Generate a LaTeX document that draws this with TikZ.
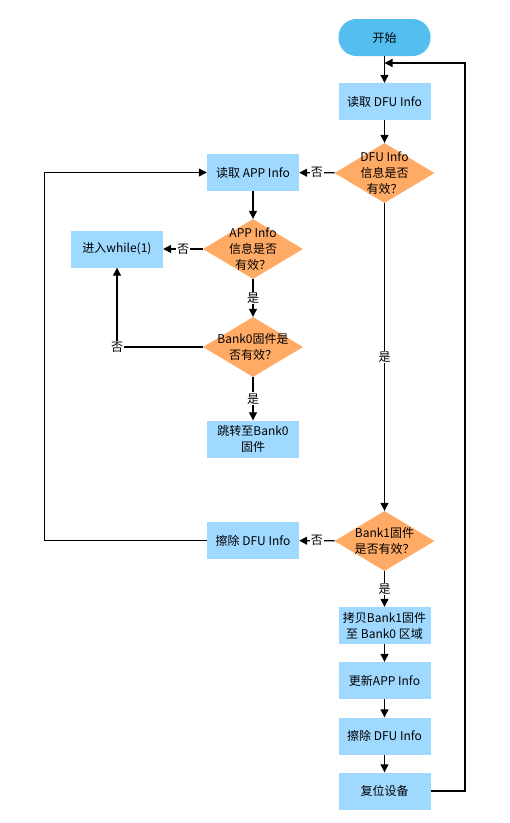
\documentclass[tikz,border=0pt]{standalone}
\usepackage{fontspec}
\setmainfont{Noto Sans CJK SC}
\usetikzlibrary{shapes.geometric,arrows.meta}
\definecolor{boxblue}{RGB}{160,217,255}
\definecolor{startblue}{RGB}{85,190,240}
\definecolor{decor}{RGB}{255,171,102}
\newcommand{\dtext}[1]{\makebox[0pt]{\raisebox{-0.33em}[0pt][0pt]{\begin{tabular}{@{}c@{}}#1\end{tabular}}}}
\tikzset{
  basefont/.style={font=\fontsize{12}{16}\selectfont},
  stepbox/.style={rectangle, fill=boxblue, minimum width=92pt, minimum height=37pt, inner sep=0pt, align=center, basefont},
  startbox/.style={rectangle, rounded corners=18pt, fill=startblue, minimum width=92pt, minimum height=37pt, inner sep=0pt, basefont},
  decbox/.style={diamond, fill=decor, minimum width=100pt, minimum height=60pt, inner sep=0pt, basefont},
  arr/.style={line width=1.2pt, -{Triangle[length=8pt,width=8pt]}},
  lab/.style={fill=white, inner sep=1pt, basefont},
}
\begin{document}
\begin{tikzpicture}[x=1pt,y=-1pt]
\fill[white] (0,0) rectangle (510,823);
\useasboundingbox (0,0) rectangle (510,823);
\node[startbox] (start) at (384.5,37.5) {开始};
\node[stepbox] (rdfu) at (384.5,101.5) {读取 DFU Info};
\node[decbox] (d1) at (384.5,173) {\dtext{DFU Info\\信息是否\\有效？}};
\node[stepbox] (rapp) at (253,172.5) {读取 APP Info};
\node[decbox] (d2) at (253,249) {\dtext{APP Info\\信息是否\\有效？}};
\node[stepbox] (while) at (117,249) {进入while(1)};
\node[decbox] (d3) at (253,347) {\dtext{Bank0固件是\\否有效？}};
\node[stepbox] (jump) at (253,439) {跳转至Bank0\\固件};
\node[decbox] (d4) at (384.5,541) {\dtext{Bank1固件\\是否有效？}};
\node[stepbox] (erase1) at (253,540.5) {擦除 DFU Info};
\node[stepbox] (copy) at (384.5,625.5) {拷贝Bank1固件\\至 Bank0 区域};
\node[stepbox] (upd) at (384.5,680.5) {更新APP Info};
\node[stepbox] (erase2) at (384.5,736) {擦除 DFU Info};
\node[stepbox] (reset) at (384.5,791) {复位设备};
\coordinate (L) at (44.5,540.5);
\coordinate (R) at (465,791);
\coordinate (J) at (384.5,63);
\draw[arr] (start) -- (rdfu);
\draw[arr] (rdfu) -- (d1);
\draw[arr] (d1) -- node[lab]{否} (rapp);
\draw[arr] (rapp) -- (d2);
\draw[arr] (d2) -- node[lab]{否} (while);
\draw[arr] (d2) -- node[lab]{是} (d3);
\draw[arr] (d3) -- node[lab]{是} (jump);
\draw[arr] (d3.west) -| node[lab,pos=0.5]{否} (while.south);
\draw[arr] (d1) -- node[lab]{是} (d4);
\draw[arr] (d4) -- node[lab]{否} (erase1);
\draw[arr] (erase1.west) -- (L) |- (rapp.west);
\draw[arr] (d4) -- node[lab]{是} (copy);
\draw[arr] (copy) -- (upd);
\draw[arr] (upd) -- (erase2);
\draw[arr] (erase2) -- (reset);
\draw[arr] (reset.east) -- (R) |- (J);
\end{tikzpicture}
\end{document}
